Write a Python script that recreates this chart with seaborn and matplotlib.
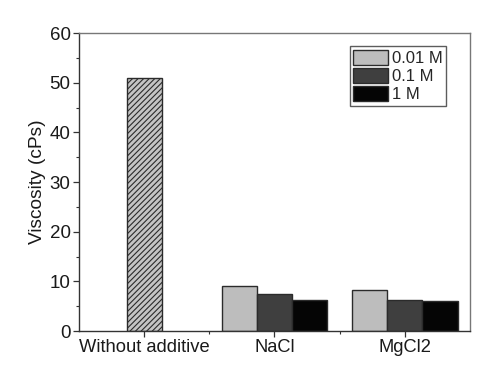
import pandas as pd
import numpy as np
import matplotlib

matplotlib.use("Agg")
import matplotlib.pyplot as plt
import matplotlib.ticker as ticker
import seaborn as sns

categories = ["Without additive", "NaCl", "MgCl2"]
baseline_value = [51.0]
salts = ["NaCl", "MgCl2"]
concentrations = ["0.01 M", "0.1 M", "1 M"]
nacl_values = [9.15, 7.4, 6.3]
mgcl2_values = [8.35, 6.2, 6.0]
colors = ["#bdbdbd", "#3f3f3f", "#050505"]

sns.set_theme(style="white")
plt.rcParams.update(
    {
        "font.family": ["Liberation Sans", "DejaVu Sans"],
        "hatch.color": "#3a3a3a",
        "hatch.linewidth": 0.8,
    }
)


def build_data():
    base = pd.DataFrame({"group": ["Without additive"], "visc": baseline_value})
    salt = pd.DataFrame(
        {
            "group": ["NaCl"] * 3 + ["MgCl2"] * 3,
            "conc": concentrations * 2,
            "visc": nacl_values + mgcl2_values,
        }
    )
    return base, salt


def bar_plot(base, salt, figure_name):
    fig = plt.figure(figsize=(4.89, 3.70), dpi=100)
    ax = fig.add_axes([0.1616, 0.1054, 0.7994, 0.8054])

    sns.barplot(
        data=base, x="group", y="visc", order=categories, width=0.27,
        color="#c4c4c4", edgecolor="#2b2b2b", linewidth=1.0, hatch="//////",
        ax=ax, errorbar=None,
    )
    sns.barplot(
        data=salt, x="group", y="visc", hue="conc", order=categories,
        hue_order=concentrations, palette=colors, width=0.81, saturation=1,
        edgecolor="#2b2b2b", linewidth=1.0, ax=ax, errorbar=None,
    )

    ax.set_xlim(-0.5, 2.5)
    ax.set_ylim(0, 60)
    ax.set_xlabel("")
    ax.set_ylabel("Viscosity (cPs)", fontsize=13.8, color="#1a1a1a", labelpad=3)

    ax.yaxis.set_major_locator(ticker.MultipleLocator(10))
    ax.yaxis.set_minor_locator(ticker.MultipleLocator(5))
    ax.xaxis.set_minor_locator(ticker.FixedLocator([0.5, 1.5]))
    ax.tick_params(axis="both", which="major", direction="out", length=4,
                   width=0.9, color="#333333", labelcolor="#1a1a1a",
                   left=True, bottom=True, pad=2)
    ax.tick_params(axis="x", which="major", labelsize=13.2)
    ax.tick_params(axis="y", which="major", labelsize=13.5)
    ax.tick_params(axis="both", which="minor", direction="out", length=2.5,
                   width=0.8, color="#333333", left=True, bottom=True)

    for side in ["left", "bottom"]:
        ax.spines[side].set_color("#333333")
        ax.spines[side].set_linewidth(1.0)
    for side in ["top", "right"]:
        ax.spines[side].set_color("#777777")
        ax.spines[side].set_linewidth(1.0)

    leg = ax.legend(
        title=None, loc="upper right", bbox_to_anchor=(0.94, 0.955),
        fontsize=12, frameon=True, fancybox=False, handlelength=2.1,
        handleheight=1.05, handletextpad=0.25, borderpad=0.2,
        labelspacing=0.1, borderaxespad=0.0,
    )
    leg.get_frame().set_edgecolor("#333333")
    leg.get_frame().set_linewidth(1.0)

    fig.savefig(figure_name, dpi=100, facecolor="w", edgecolor="w")
    plt.close()


def main():
    base, salt = build_data()
    bar_plot(base, salt, "out.png")


if __name__ == "__main__":
    main()
